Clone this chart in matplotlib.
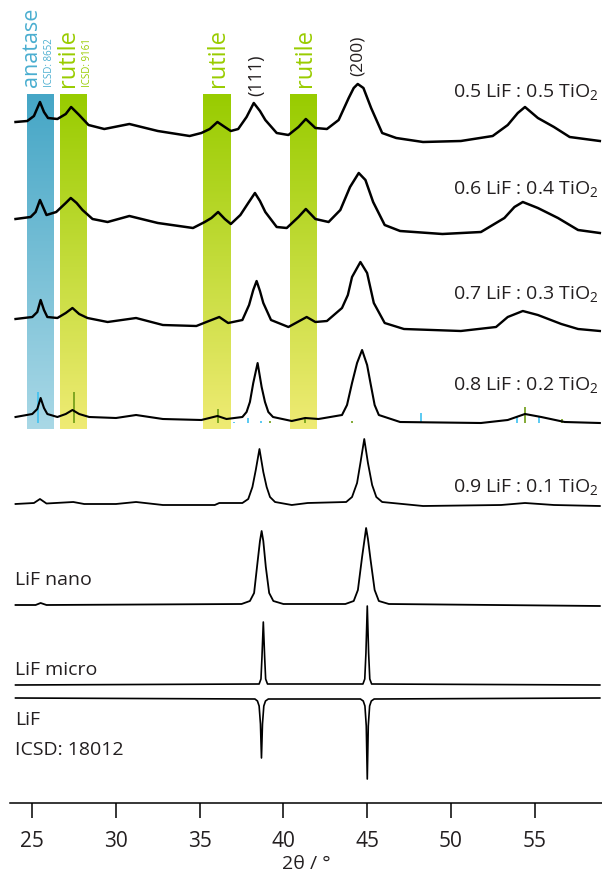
import numpy as np
import matplotlib
matplotlib.use('Agg')
import matplotlib.pyplot as plt
from matplotlib.colors import to_rgb

plt.rcParams['font.family'] = ['Open Sans', 'DejaVu Sans']
plt.rcParams['mathtext.fontset'] = 'custom'
plt.rcParams['mathtext.rm'] = 'Open Sans'
plt.rcParams['mathtext.it'] = 'Open Sans'

# ---------------------------------------------------------
# Diffraction data (2theta in degrees, intensity in a.u.)
# ---------------------------------------------------------
tt_05 = [24.0, 24.7, 25.1, 25.46, 25.7, 25.94, 26.5, 27.0, 27.32, 27.8, 28.36, 29.3, 30.8, 32.5, 34.4,
         35.1, 35.6, 36.06, 36.5, 36.86, 37.3, 37.8, 38.23, 38.6, 38.92, 39.6, 40.3, 40.9, 41.34, 41.91,
         42.6, 43.3, 43.9, 44.2, 44.44, 44.78, 45.24, 45.9, 46.74, 48.34, 50.6, 52.5, 53.4, 54.0, 54.43,
         55.2, 56.16, 57.1, 58.9]
int_05 = [23, 24, 29, 43, 33, 27, 26, 31, 38, 30, 20, 16, 21, 14, 9,
          12, 16, 23, 18, 14, 16, 28, 42, 34, 25, 12, 10, 18, 26, 17,
          16, 25, 47, 57, 61, 57, 37, 12, 7, 3, 4, 9, 20, 32, 38,
          27, 18, 8, 4]

tt_06 = [24.0, 24.9, 25.2, 25.46, 25.85, 26.43, 27.0, 27.3, 27.65, 28.0, 28.6, 29.5, 30.8, 32.5, 34.6,
         35.3, 35.7, 36.1, 36.5, 36.86, 37.43, 37.9, 38.3, 38.6, 38.92, 39.6, 40.2, 40.9, 41.34, 41.91,
         42.7, 43.4, 43.98, 44.5, 44.9, 45.36, 46.05, 46.97, 49.5, 51.8, 53.2, 53.8, 54.3, 55.2, 56.4,
         57.6, 58.9]
int_06 = [21, 23, 28, 40, 25, 28, 37, 42, 37, 30, 21, 18, 24, 17, 12,
          18, 22, 28, 21, 16, 25, 37, 47, 39, 28, 13, 12, 23, 31, 21,
          18, 30, 53, 67, 60, 38, 15, 9, 6, 8, 22, 33, 38, 32, 22,
          10, 7]

tt_07 = [24.0, 25.0, 25.3, 25.5, 25.7, 25.9, 26.5, 27.0, 27.4, 27.8, 28.3, 29.5, 31.2, 32.8, 34.8,
         35.4, 36.17, 36.7, 37.55, 37.95, 38.2, 38.4, 38.6, 38.8, 39.26, 40.3, 41.39, 41.91, 42.6, 43.5,
         43.85, 44.1, 44.6, 45.0, 45.4, 46.05, 47.2, 50.6, 52.7, 53.4, 54.3, 55.2, 56.6, 57.6, 58.9]
int_07 = [16, 18, 23, 35, 25, 18, 17, 22, 27, 21, 17, 13, 17, 10, 9,
          13, 18, 12, 15, 30, 45, 54, 44, 32, 15, 8, 18, 13, 14, 27,
          40, 58, 73, 62, 32, 12, 6, 4, 8, 18, 24, 20, 11, 6, 4]

tt_08 = [24.0, 25.0, 25.3, 25.5, 25.7, 25.9, 26.5, 27.0, 27.4, 27.8, 28.4, 30.0, 31.2, 32.8, 35.1,
         36.06, 36.6, 37.55, 37.8, 38.0, 38.2, 38.46, 38.7, 38.9, 39.1, 39.38, 40.5, 41.3, 42.1, 43.5,
         43.8, 44.1, 44.4, 44.7, 45.0, 45.2, 45.45, 45.7, 46.97, 51.8, 53.4, 54.43, 55.4, 56.8, 58.9]
int_08 = [8, 11, 16, 27, 17, 11, 8, 11, 15, 11, 8, 7, 10, 6, 5,
          9, 6, 8, 13, 23, 42, 62, 38, 23, 13, 8, 4, 7, 6, 10,
          20, 42, 62, 75, 60, 42, 20, 10, 3, 2, 5, 11, 8, 3, 2]

tt_09 = [24.0, 25.1, 25.46, 25.85, 27.45, 28.1, 30.0, 31.2, 32.8, 35.9, 36.17, 37.55, 37.9, 38.15, 38.35,
         38.57, 38.8, 39.0, 39.2, 39.5, 40.5, 41.45, 43.75, 44.1, 44.4, 44.6, 44.83, 45.05, 45.3, 45.55,
         45.9, 48.34, 53.0, 54.43, 56.16, 58.9]
int_09 = [11, 12, 16, 11.5, 13, 11, 11, 13, 10, 10, 12, 12, 16, 28, 45,
          66, 43, 28, 18, 13, 10, 12, 13, 18, 32, 52, 76, 52, 30, 18,
          13, 9, 10, 12, 10, 9]

tt_nano = [24.0, 25.2, 25.5, 25.85, 37.5, 38.0, 38.25, 38.45, 38.6, 38.7, 38.8, 38.95, 39.15, 39.4, 40.0,
           43.7, 44.2, 44.45, 44.7, 44.85, 44.94, 45.05, 45.2, 45.45, 45.7, 46.3, 58.9]
int_nano = [2, 2, 4, 2, 3, 6, 14, 44, 66, 76, 66, 40, 14, 6, 3,
            3, 6, 17, 50, 68, 79, 68, 48, 17, 6, 3, 1]

tt_micro = [24.0, 38.55, 38.66, 38.72, 38.8, 38.88, 38.94, 39.05, 44.75, 44.86, 44.93, 45.01, 45.09, 45.16,
            45.27, 58.9]
int_micro = [0, 1, 6, 28, 63, 28, 6, 1, 1, 6, 32, 79, 32, 6, 1, 0]

# LiF reference pattern ICSD 18012 (drawn downwards)
tt_icsd = [24.0, 38.3, 38.45, 38.55, 38.63, 38.69, 38.75, 38.83, 38.93, 39.1, 44.6, 44.77, 44.87, 44.95,
           45.01, 45.07, 45.15, 45.25, 45.42, 58.9]
int_icsd = [0, 1, 3, 8, 26, 60, 26, 8, 3, 1, 1, 3, 8, 28, 81, 28, 8, 3, 1, 0]

# reference reflections (relative intensity)
anatase_pos = [25.37, 37.07, 37.9, 38.66, 48.2, 53.97, 55.24]
anatase_int = [100, 5.5, 18, 7.5, 32, 19, 22]
rutile_pos = [27.48, 36.11, 39.2, 41.29, 44.1, 54.43, 56.66]
rutile_int = [100, 45, 7.5, 18, 7.5, 52, 13]

sample_labels = ['0.5 LiF : 0.5 TiO$_2$', '0.6 LiF : 0.4 TiO$_2$', '0.7 LiF : 0.3 TiO$_2$',
                 '0.8 LiF : 0.2 TiO$_2$', '0.9 LiF : 0.1 TiO$_2$']

# ---------------------------------------------------------
# Figure setup (y axis in "pixel-like" units, 0 = x axis line)
# ---------------------------------------------------------
fig = plt.figure(figsize=(6.02, 8.77), dpi=100)
ax = fig.add_axes([10 / 602, 74 / 877, 592 / 602, 803 / 877])
ax.set_xlim(23.67, 59.03)
ax.set_ylim(0, 803)

# shaded phase bands with vertical gradient
band_top, band_bot = 708, 373.5
bands = [((24.68, 26.24), '#45a6c6', '#a9d8e6'),
         ((26.65, 28.21), '#98cc00', '#efeb74'),
         ((35.18, 36.81), '#98cc00', '#efeb74'),
         ((40.39, 41.99), '#98cc00', '#efeb74')]
for (x0, x1), c_top, c_bot in bands:
    t = np.linspace(0, 1, 200)[:, None]
    grad = (1 - t) * np.array(to_rgb(c_top)) + t * np.array(to_rgb(c_bot))
    ax.imshow(grad[:, None, :].repeat(2, axis=1), extent=[x0, x1, band_bot, band_top],
              aspect='auto', origin='upper', zorder=0, interpolation='bilinear')

# reference stick patterns in the 0.8 trace
stick_base = 379.7
for p, i in zip(anatase_pos, anatase_int):
    ax.plot([p, p], [stick_base, stick_base + i * 0.31], color='#3ec1f0', lw=1.2, zorder=1,
            solid_capstyle='butt')
for p, i in zip(rutile_pos, rutile_int):
    ax.plot([p, p], [stick_base, stick_base + i * 0.31], color='#6e9c14', lw=1.2, zorder=1,
            solid_capstyle='butt')

# stacked traces
traces = [(tt_05, int_05, 658, 1.8), (tt_06, int_06, 563, 1.8), (tt_07, int_07, 468, 1.7),
          (tt_08, int_08, 378, 1.5), (tt_09, int_09, 288, 1.3), (tt_nano, int_nano, 196, 1.3),
          (tt_micro, int_micro, 118, 1.2)]
for tt, inten, off, lw in traces:
    ax.plot(tt, np.array(inten) + off, color='black', lw=lw, zorder=3, solid_joinstyle='round')
ax.plot(tt_icsd, 105 - np.array(int_icsd), color='black', lw=1.2, zorder=3)

# sample labels (right)
label_y = [706, 609, 504, 413, 311]
for txt, y in zip(sample_labels, label_y):
    ax.text(58.79, y, txt, ha='right', va='baseline', fontsize=14, color='#231f20')

# left labels
ax.text(23.97, 218, 'LiF nano', ha='left', va='baseline', fontsize=14, color='#231f20')
ax.text(23.97, 128, 'LiF micro', ha='left', va='baseline', fontsize=14, color='#231f20')
ax.text(23.97, 78, 'LiF', ha='left', va='baseline', fontsize=14, color='#231f20')
ax.text(23.97, 48, 'ICSD: 18012', ha='left', va='baseline', fontsize=14, color='#231f20')

# rotated phase labels on top
rot = dict(rotation=90, rotation_mode='anchor', ha='left', va='center')
ax.text(24.98, 716, 'anatase', fontsize=15.5, color='#4aaed0', **rot)
ax.text(26.0, 716, 'ICSD: 8652', fontsize=7, color='#4aaed0', **rot)
ax.text(27.15, 716, 'rutile', fontsize=17, color='#99cc00', **rot)
ax.text(28.27, 716, 'ICSD: 9161', fontsize=7, color='#99cc00', **rot)
ax.text(36.1, 716, 'rutile', fontsize=17, color='#99cc00', **rot)
ax.text(41.3, 716, 'rutile', fontsize=17, color='#99cc00', **rot)
ax.text(38.4, 707, '(111)', fontsize=13, color='#231f20', **rot)
ax.text(44.45, 727, '(200)', fontsize=12.5, color='#231f20', **rot)

# axes styling
for s in ['top', 'left', 'right']:
    ax.spines[s].set_visible(False)
ax.spines['bottom'].set_linewidth(1.1)
ax.set_yticks([])
ax.set_xticks(range(25, 60, 5))
ax.tick_params(axis='x', direction='out', length=11, width=1.1, pad=9, labelsize=15,
               labelcolor='#231f20')
ax.set_xlabel('2θ / °', fontsize=14, color='#231f20', labelpad=2)

fig.savefig('out.png', dpi=100)
